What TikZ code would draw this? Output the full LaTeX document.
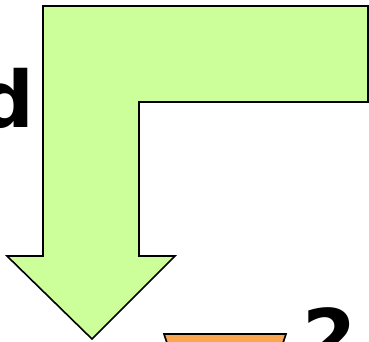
\documentclass[tikz,border=0pt]{standalone}
\usepackage{fontspec}
\setmainfont{DejaVu Sans}
\usetikzlibrary{positioning}
\definecolor{arrowgreen}{RGB}{204,255,153}
\definecolor{boxorange}{RGB}{250,166,80}
\begin{document}
\begin{tikzpicture}[x=1pt, y=-1pt,
  bigarrow/.style={draw=black, fill=arrowgreen, line width=1.6pt, line join=miter},
  trapbox/.style={draw=black, fill=boxorange, line width=1.6pt},
  bigtext/.style={font=\fontsize{78}{78}\selectfont\bfseries, inner sep=0pt}
]
\useasboundingbox (0,0) rectangle (369,341);
\clip (0,0) rectangle (369,341);

% bent arrow
\draw[bigarrow] (368,6) -- (43,6) -- (43,256) -- (7,256) -- (92,339) -- (175,256)
  -- (139,256) -- (139,102) -- (368,102) -- cycle;

\draw[trapbox] (164,334) -- (286,334) -- (280,352) -- (170,352) -- cycle;

\node[bigtext, anchor=base east] (letterd) at (35,127) {d};
\node[bigtext, anchor=base west] (digittwo) at (302,365) {2};
\end{tikzpicture}
\end{document}
